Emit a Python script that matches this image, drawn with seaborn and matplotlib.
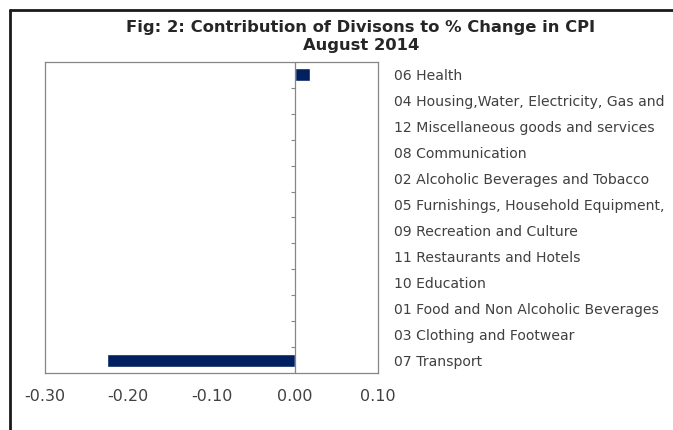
import matplotlib
matplotlib.use("Agg")
import matplotlib.pyplot as plt
from matplotlib.lines import Line2D
import seaborn as sns
import pandas as pd
import numpy as np

# data (top to bottom)
divisions = [
    "06 Health",
    "04 Housing,Water, Electricity, Gas and",
    "12 Miscellaneous goods and services",
    "08 Communication",
    "02 Alcoholic Beverages and Tobacco",
    "05 Furnishings, Household Equipment,",
    "09 Recreation and Culture",
    "11 Restaurants and Hotels",
    "10 Education",
    "01 Food and Non Alcoholic Beverages",
    "03 Clothing and Footwear",
    "07 Transport",
]
contribution = [0.018, 0.0, 0.0, 0.0, 0.0, 0.0, 0.0, 0.0, 0.0, 0.0, 0.0, -0.226]
x_ticks = [-0.30, -0.20, -0.10, 0.00, 0.10]

df = pd.DataFrame({"Division": divisions, "Contribution": contribution})

sns.set_style("white")
plt.rcParams["font.family"] = ["DejaVu Sans"]
plt.rcParams["axes.unicode_minus"] = False

fig = plt.figure(figsize=(6.73, 4.30), dpi=100)
ax = fig.add_axes([0.067, 0.1326, 0.495, 0.7234])

sns.barplot(data=df, y="Division", x="Contribution", orient="h",
            color="#002060", width=0.5, saturation=1, ax=ax)

ax.set_xlim(-0.30, 0.10)
ax.set_ylim(len(divisions) - 0.5, -0.5)
ax.set_xticks(x_ticks)
ax.set_xticklabels([f"{t:.2f}" for t in x_ticks])
ax.set_xlabel("")
ax.set_ylabel("")

# category labels sit to the right of the plot area
ax.yaxis.tick_right()
ax.tick_params(axis="y", length=0, pad=11, labelsize=10.1, labelcolor="#404040")
ax.tick_params(axis="x", length=3, direction="inout", color="#868686",
               labelsize=11.5, labelcolor="#404040", pad=10)

# vertical category axis at zero with ticks between categories
ax.axvline(0, color="#868686", lw=0.9)
bounds = np.arange(len(divisions) + 1) - 0.5
ax.hlines(bounds, -0.005, 0, color="#868686", lw=0.8)

for s in ax.spines.values():
    s.set_color("#868686")
    s.set_linewidth(0.9)

fig.text(0.536, 0.953, "Fig: 2: Contribution of Divisons to % Change in CPI\nAugust 2014",
         ha="center", va="top", fontsize=11.8, fontweight="bold",
         color="#262626", linespacing=1.2)

# outer chart frame (top and left edges visible)
fig.add_artist(Line2D([0.0149, 1.0], [0.977, 0.977], color="#1a1a1a", lw=2))
fig.add_artist(Line2D([0.0149, 0.0149], [0.0, 0.977], color="#1a1a1a", lw=2))

fig.savefig("out.png", dpi=100, facecolor="white")
